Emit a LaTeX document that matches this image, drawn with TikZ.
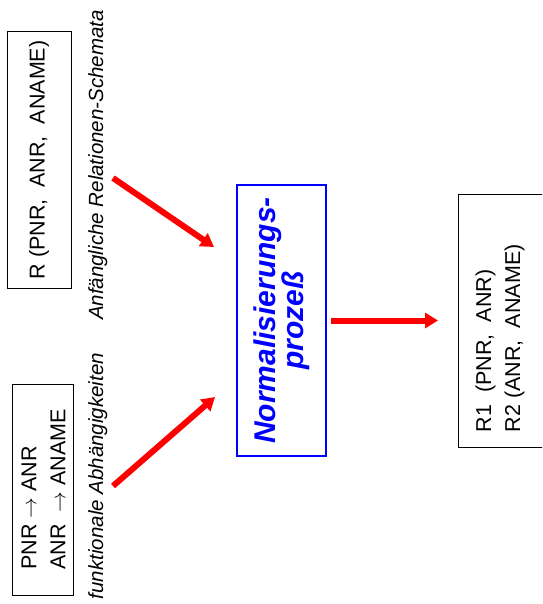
\documentclass[tikz,border=0pt]{standalone}
\usepackage{fontspec}
\setmainfont{Liberation Sans}
\usetikzlibrary{positioning,arrows.meta}

\begin{document}
\begin{tikzpicture}[
            x=1pt, y=-1pt,
            outer sep=0pt,
            box/.style={
                draw=black, line width=1pt, rotate=90, text=black, font=\fontsize{21.5}{29}\selectfont, anchor=center
            },
            normbox/.style={
                color=blue, draw, line width=1.2pt, rotate=90, align=center, font=\fontsize{30}{28}\selectfont\bfseries\itshape, anchor=center
            },
            lbl/.style={
                rotate=90, inner sep=0pt, anchor=base, text=black, font=\fontsize{20.5}{28}\selectfont\itshape
            },
            flow/.style={
                -{Triangle[width=15pt,length=13pt]}, red, line width=6pt
            }
        ]
            % SEITE
            \path[use as bounding box, clip] (0,0) rectangle (542,604);

            % --- LINKS: EINGABEN ---
            \node[box, minimum width=256pt, minimum height=64pt] (schema) at (39,160) {R (PNR,\ \ ANR,\ \ ANAME)};
            \node[box, minimum width=211pt, minimum height=61pt, align=left] (fd) at (43.4,489.5)
                {PNR $\rightarrow$ ANR\\ANR\ \ $\rightarrow$ ANAME};
            \node[lbl] (schemalbl) at (103,165) {Anfängliche Relationen-Schemata};
            \node[lbl] (fdlbl) at (103,476) {funktionale Abhängigkeiten};

            % --- MITTE: PROZESS ---
            \node[normbox, minimum width=271pt, minimum height=89pt] (norm) at (281.5,320.5) {Normalisierungs-\\prozeß};

            % --- RECHTS: ERGEBNIS ---
            \node[box, minimum width=253pt, minimum height=120pt] (res) at (518,320.5) {};
            \node[box, draw=none, inner sep=0pt, align=left, anchor=west] (restext) at (500,432)
                {R1\ \ (PNR,\ \ ANR)\\R2 (ANR,\ \ ANAME)};

            % PFEILE
            \coordinate (schemaend) at (113,178);
            \coordinate (normin1) at (214,247);
            \coordinate (fdend) at (113,486);
            \coordinate (normin2) at (215,397);
            \draw[flow] (schemaend) -- (normin1);
            \draw[flow] (fdend) -- (normin2);
            \draw[flow] ([xshift=5pt]norm.south) -- ([xshift=-20pt]res.north);

        \end{tikzpicture}
\end{document}
